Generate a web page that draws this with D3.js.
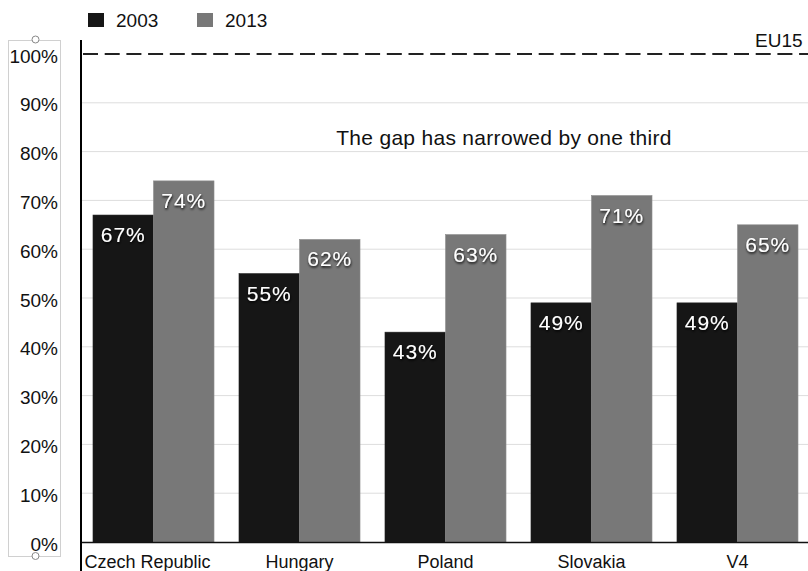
<!DOCTYPE html>
<html><head><meta charset="utf-8">
<script src="https://cdn.jsdelivr.net/npm/d3@7"></script>
<style>
body{margin:0;background:#fff;}
svg{display:block;font-family:"Liberation Sans",Arial,sans-serif;}
</style></head>
<body>
<svg id="c" width="808" height="571"></svg>
<script>
const categories = ["Czech Republic","Hungary","Poland","Slovakia","V4"];
const series = ["2003","2013"];
const values2003 = [67,55,43,49,49];
const values2013 = [74,62,63,71,65];
const yTicks = [0,10,20,30,40,50,60,70,80,90,100];
const colors = ["#161616","#787878"];
const refValue = 100, refLabel = "EU15";
const note = "The gap has narrowed by one third";

const svg = d3.select("#c");
const W = 808, H = 571;
const x0 = 80, x1 = 808;
const y = d3.scaleLinear().domain([0,100]).range([542,54]);
const x = d3.scaleBand().domain(categories).range([x0,811]).paddingInner(0.171).paddingOuter(0.089);
const xs = d3.scaleBand().domain(series).range([0,x.bandwidth()]);

const defs = svg.append("defs");
const f = defs.append("filter").attr("id","sh").attr("x","-20%").attr("y","-20%").attr("width","140%").attr("height","160%");
f.append("feDropShadow").attr("dx",0.5).attr("dy",1.5).attr("stdDeviation",0.9).attr("flood-color","#000").attr("flood-opacity",0.95);

// gridlines
svg.append("g").selectAll("line").data(yTicks.filter(d=>d>0 && d<100)).join("line")
  .attr("x1",x0).attr("x2",x1).attr("y1",d=>y(d)).attr("y2",d=>y(d))
  .attr("stroke","#dddddd").attr("stroke-width",1);

// y-axis label box
svg.append("rect").attr("x",8.5).attr("y",40.5).attr("width",52).attr("height",516)
  .attr("fill","none").attr("stroke","#d0d0d0").attr("stroke-width",1);
svg.append("circle").attr("cx",35.5).attr("cy",39.5).attr("r",3.5).attr("fill","#fff").attr("stroke","#888");
svg.append("circle").attr("cx",35.5).attr("cy",556).attr("r",3.5).attr("fill","#fff").attr("stroke","#888");

const yAxis = d3.axisLeft(y).tickValues(yTicks).tickFormat(d=>d+"%").tickSize(0).tickPadding(0);
const ya = svg.append("g").attr("transform","translate(58,2)").call(yAxis);
ya.select(".domain").remove();
ya.selectAll("text").attr("font-size",19).attr("fill","#111").attr("font-family","Liberation Sans, Arial, sans-serif");

// bars
const data = categories.map((c,i)=>({c, v:[values2003[i],values2013[i]]}));
const g = svg.append("g");
data.forEach(d=>{
  series.forEach((s,j)=>{
    const bx = x(d.c)+xs(s), bw = xs.bandwidth(), v = d.v[j];
    g.append("rect").attr("x",bx).attr("y",y(v)).attr("width",bw).attr("height",y(0)-y(v))
      .attr("fill",colors[j]).attr("stroke",j? "#8e8e8e":"#222").attr("stroke-width",0.6);
    g.append("text").attr("x",bx+bw/2).attr("y",y(v)+27).attr("text-anchor","middle")
      .attr("font-size",21).attr("letter-spacing",1).attr("fill","#fff").attr("filter","url(#sh)").text(v+"%");
  });
});

// x axis baseline
svg.append("line").attr("x1",x0).attr("x2",x1).attr("y1",y(0)+0.5).attr("y2",y(0)+0.5).attr("stroke","#111").attr("stroke-width",1.6);
const xa = svg.append("g").attr("transform",`translate(0,${y(0)})`).call(d3.axisBottom(x).tickSize(0).tickPadding(0));
xa.select(".domain").remove();
xa.selectAll("text").attr("font-size",18).attr("fill","#111").attr("y",26).attr("dy",0).attr("font-family","Liberation Sans, Arial, sans-serif");
xa.selectAll(".tick").filter(d=>d==="Czech Republic").select("text").attr("dx",-6);

// y axis line
svg.append("line").attr("x1",81).attr("x2",81).attr("y1",40).attr("y2",H).attr("stroke","#000").attr("stroke-width",2);

// reference line
svg.append("line").attr("x1",83).attr("x2",x1).attr("y1",y(refValue)).attr("y2",y(refValue))
  .attr("stroke","#222").attr("stroke-width",2).attr("stroke-dasharray","15,6.7");
svg.append("text").attr("x",755).attr("y",47).attr("font-size",19).attr("fill","#111").text(refLabel);

// note
svg.append("text").attr("x",504).attr("y",145).attr("text-anchor","middle").attr("font-size",21).attr("letter-spacing",0.3).attr("fill","#111").text(note);

// legend
const lg = svg.append("g");
series.forEach((s,j)=>{
  const lx = 88 + j*109;
  lg.append("rect").attr("x",lx).attr("y",13).attr("width",16).attr("height",14).attr("fill",colors[j]);
  lg.append("text").attr("x",lx+28).attr("y",27).attr("font-size",19).attr("fill","#111").text(s);
});
</script>
</body></html>
